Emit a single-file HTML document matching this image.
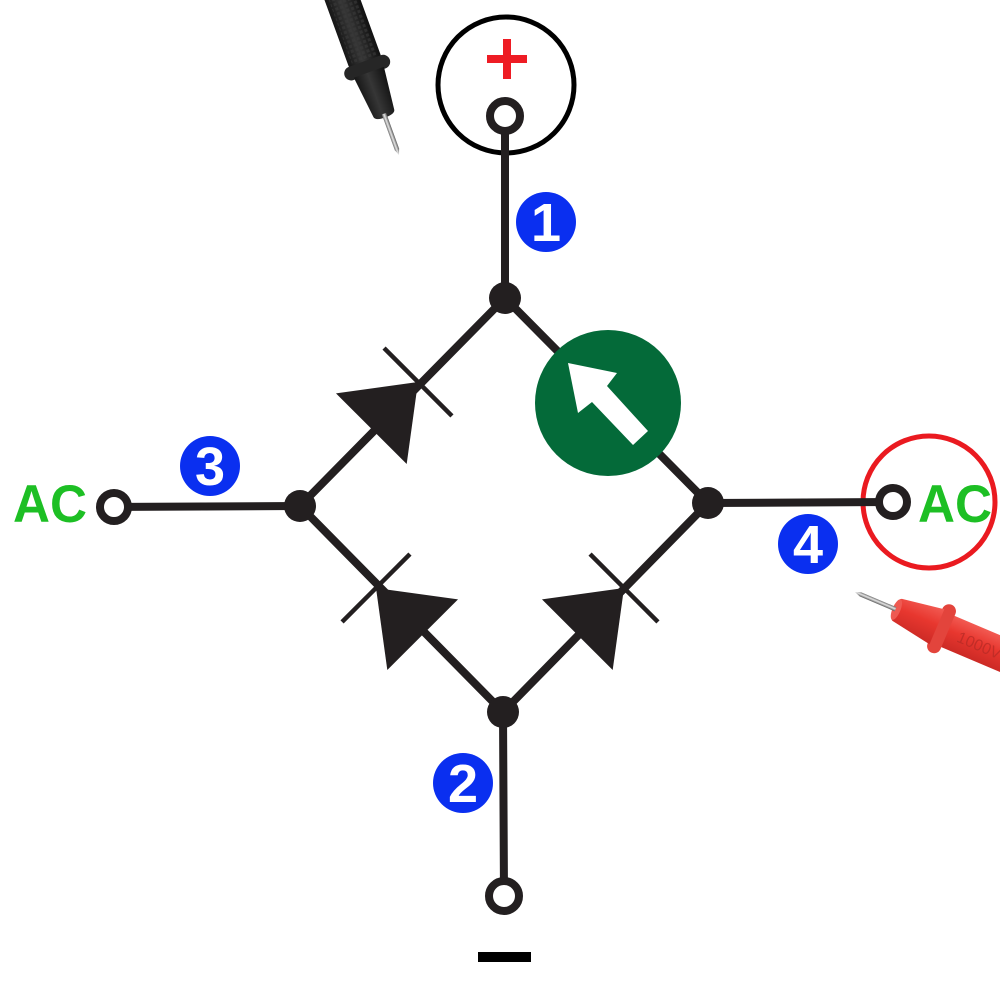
<!DOCTYPE html>
<html>
<head>
<meta charset="utf-8">
<style>
  html, body { margin:0; padding:0; background:#ffffff; }
  svg { display:block; }
</style>
</head>
<body>
<svg width="1000" height="1000" viewBox="0 0 1000 1000" xmlns="http://www.w3.org/2000/svg">
  <defs>
    <linearGradient id="pinG" x1="0" y1="0" x2="1" y2="0">
      <stop offset="0" stop-color="#6d6d6d"/>
      <stop offset="0.45" stop-color="#e6e6e6"/>
      <stop offset="1" stop-color="#5a5a5a"/>
    </linearGradient>
    <linearGradient id="pinR" x1="0" y1="0" x2="0" y2="1">
      <stop offset="0" stop-color="#6d6d6d"/>
      <stop offset="0.45" stop-color="#e6e6e6"/>
      <stop offset="1" stop-color="#5a5a5a"/>
    </linearGradient>
    <linearGradient id="blkG" x1="0" y1="0" x2="1" y2="0">
      <stop offset="0" stop-color="#161616"/>
      <stop offset="0.45" stop-color="#363636"/>
      <stop offset="1" stop-color="#111111"/>
    </linearGradient>
    <linearGradient id="redG" x1="0" y1="0" x2="0" y2="1">
      <stop offset="0" stop-color="#f25a52"/>
      <stop offset="0.45" stop-color="#e8372f"/>
      <stop offset="1" stop-color="#cc2a25"/>
    </linearGradient>
    <pattern id="knurl" width="5" height="5" patternUnits="userSpaceOnUse">
      <rect x="0" y="0" width="3" height="3" fill="#3a3a3a" opacity="0.6"/>
    </pattern>
  </defs>

  <!-- Black probe (top-left) -->
  <g transform="translate(399,155) rotate(-20)">
    <rect x="-17" y="-230" width="34" height="136" rx="7" fill="url(#blkG)"/>
    <rect x="-13" y="-230" width="26" height="128" fill="url(#knurl)"/>
    <rect x="-24" y="-100" width="48" height="14" rx="7" fill="#262626"/>
    <path d="M-16,-88 L16,-88 L11,-44 Q10,-40 0,-40 Q-10,-40 -11,-44 Z" fill="url(#blkG)"/>
    <path d="M-2.3,-44 L2.3,-44 L2.3,-6 L0,0 L-2.3,-6 Z" fill="url(#pinG)"/>
  </g>

  <!-- Red probe (bottom-right) -->
  <g transform="translate(855,592) rotate(23)">
    <rect x="96" y="-17" width="140" height="34" rx="5" fill="url(#redG)"/>
    <text x="112" y="6" font-family="Liberation Sans, sans-serif" font-size="16" fill="#b42a25" opacity="0.7">1000V</text>
    <rect x="87" y="-26" width="14" height="52" rx="7" fill="#e3443c"/>
    <path d="M89,-19 L89,19 L46,12 Q42,11 42,0 Q42,-11 46,-12 Z" fill="url(#redG)"/>
    <ellipse cx="45" cy="0" rx="4" ry="11" fill="#ee5a52"/>
    <path d="M44,-2.2 L44,2.2 L6,2.2 L0,0 L6,-2.2 Z" fill="url(#pinR)"/>
  </g>

  <!-- Top black circle and plus -->
  <circle cx="506" cy="85" r="68" fill="none" stroke="#000" stroke-width="5"/>
  <rect x="487" y="55" width="40" height="8" fill="#ee1c24"/>
  <rect x="503" y="39" width="8" height="40" fill="#ee1c24"/>

  <!-- Right red circle -->
  <circle cx="929" cy="502" r="66" fill="none" stroke="#ea1a20" stroke-width="5"/>

  <!-- Wires -->
  <g stroke="#231f20" stroke-width="8" stroke-linecap="round" fill="none">
    <line x1="505" y1="116" x2="505" y2="298"/>
    <line x1="505" y1="298" x2="300" y2="506"/>
    <line x1="505" y1="298" x2="708" y2="503"/>
    <line x1="300" y1="506" x2="503" y2="712"/>
    <line x1="708" y1="503" x2="503" y2="712"/>
    <line x1="503" y1="712" x2="504" y2="896"/>
    <line x1="114" y1="507" x2="300" y2="506"/>
    <line x1="708" y1="503" x2="893" y2="502"/>
  </g>

  <!-- Diodes -->
  <g fill="#231f20" stroke="#231f20">
    <g transform="translate(418,382) rotate(-45)">
      <polygon points="0,0 -66,-50 -66,50" stroke="none"/>
      <line x1="0" y1="-48" x2="0" y2="48" stroke-width="4.5"/>
    </g>
    <g transform="translate(376,588) rotate(-135)">
      <polygon points="0,0 -66,-50 -66,50" stroke="none"/>
      <line x1="0" y1="-48" x2="0" y2="48" stroke-width="4.5"/>
    </g>
    <g transform="translate(624,588) rotate(-45)">
      <polygon points="0,0 -66,-50 -66,50" stroke="none"/>
      <line x1="0" y1="-48" x2="0" y2="48" stroke-width="4.5"/>
    </g>
  </g>

  <!-- Nodes -->
  <g fill="#231f20">
    <circle cx="505" cy="298" r="16"/>
    <circle cx="300" cy="506" r="16"/>
    <circle cx="708" cy="503" r="16"/>
    <circle cx="503" cy="712" r="16"/>
  </g>

  <!-- Terminals -->
  <g fill="#ffffff" stroke="#231f20" stroke-width="8">
    <circle cx="505" cy="116" r="15"/>
    <circle cx="504" cy="896" r="15"/>
    <circle cx="114" cy="507" r="14"/>
    <circle cx="893" cy="502" r="14"/>
  </g>

  <!-- Green circle with arrow -->
  <circle cx="608" cy="403" r="73" fill="#046a39"/>
  <polygon points="568,363 617,373 607,386 648,431 633,445 592,402 578,413" fill="#ffffff"/>

  <!-- Minus -->
  <rect x="478" y="952" width="53" height="10" fill="#000"/>

  <!-- AC labels -->
  <text x="13" y="522" font-family="Liberation Sans, sans-serif" font-weight="bold" font-size="53" fill="#1dbf24" textLength="74" lengthAdjust="spacingAndGlyphs">AC</text>
  <text x="918" y="522" font-family="Liberation Sans, sans-serif" font-weight="bold" font-size="53" fill="#1dbf24" textLength="74" lengthAdjust="spacingAndGlyphs">AC</text>

  <!-- Numbered blue circles -->
  <g font-family="Liberation Sans, sans-serif" font-weight="bold" font-size="54" fill="#ffffff" text-anchor="middle">
    <circle cx="546" cy="222" r="30" fill="#0a2ff0"/>
    <text x="546" y="241">1</text>
    <circle cx="463" cy="783" r="30" fill="#0a2ff0"/>
    <text x="463" y="802">2</text>
    <circle cx="210" cy="466" r="30" fill="#0a2ff0"/>
    <text x="210" y="485">3</text>
    <circle cx="808" cy="544" r="30" fill="#0a2ff0"/>
    <text x="808" y="563">4</text>
  </g>
</svg>
</body>
</html>
